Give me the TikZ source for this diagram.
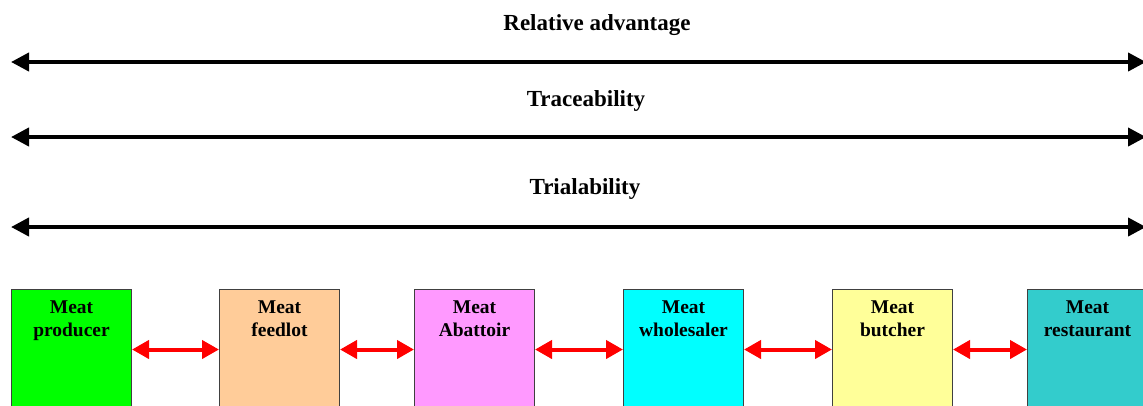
\documentclass[tikz,border=0pt]{standalone}
\usepackage{fontspec}
\setmainfont{Liberation Serif}
\usetikzlibrary{arrows.meta}
\definecolor{cGreen}{HTML}{00FF00}
\definecolor{cPeach}{HTML}{FFCC99}
\definecolor{cPink}{HTML}{FF99FF}
\definecolor{cCyan}{HTML}{00FFFF}
\definecolor{cYellow}{HTML}{FFFF99}
\definecolor{cTeal}{HTML}{33CCCC}
\definecolor{cEdge}{HTML}{404040}
\tikzset{
  title/.style={font=\bfseries\fontsize{17.25}{20}\selectfont, anchor=base, inner sep=0pt},
  bigarrow/.style={line width=3pt, {Triangle[length=13.5pt,width=13.5pt]}-{Triangle[length=13.5pt,width=13.5pt]}},
  stage/.style={draw=cEdge, line width=0.75pt, minimum width=90pt, minimum height=90pt, anchor=north west, inner sep=0pt},
  stagetext/.style={font=\bfseries\fontsize{14.6}{17.25}\selectfont, align=center, anchor=north, inner sep=0pt},
  link/.style={red, line width=3pt, {Triangle[length=12.75pt,width=13.5pt]}-{Triangle[length=12.75pt,width=13.5pt]}}
}
\begin{document}
\begin{tikzpicture}[x=0.75pt,y=-0.75pt]
\useasboundingbox (0,0) rectangle (1143,405);
\clip (0,0) rectangle (1143,405);

% attribute headings with their full-width double arrows
\node[title] (tA) at (597,30) {Relative advantage};
\coordinate (aL) at (11,62);  \coordinate (aR) at (1146,62);
\draw[bigarrow] (aL) -- (aR);

\node[title] (tB) at (586,106) {Traceability};
\coordinate (bL) at (11,137); \coordinate (bR) at (1146,137);
\draw[bigarrow] (bL) -- (bR);

\node[title] (tC) at (585,194) {Trialability};
\coordinate (cL) at (11,227); \coordinate (cR) at (1146,227);
\draw[bigarrow] (cL) -- (cR);

% supply chain stages
\node[stage, fill=cGreen]  (s1) at (11,289)   {};
\node[stage, fill=cPeach]  (s2) at (219,289)  {};
\node[stage, fill=cPink]   (s3) at (414,289)  {};
\node[stage, fill=cCyan]   (s4) at (623,289)  {};
\node[stage, fill=cYellow] (s5) at (832,289)  {};
\node[stage, fill=cTeal]   (s6) at (1027,289) {};

\node[stagetext] (l1) at ([yshift=-8.9pt]s1.north) {Meat\\producer};
\node[stagetext] (l2) at ([yshift=-8.9pt]s2.north) {Meat\\feedlot};
\node[stagetext] (l3) at ([yshift=-8.9pt]s3.north) {Meat\\Abattoir};
\node[stagetext] (l4) at ([yshift=-8.9pt]s4.north) {Meat\\wholesaler};
\node[stagetext] (l5) at ([yshift=-8.9pt]s5.north) {Meat\\butcher};
\node[stagetext] (l6) at ([yshift=-8.9pt]s6.north) {Meat\\restaurant};

% links between neighbouring stages
\draw[link] (s1.east) -- (s2.west);
\draw[link] (s2.east) -- (s3.west);
\draw[link] (s3.east) -- (s4.west);
\draw[link] (s4.east) -- (s5.west);
\draw[link] (s5.east) -- (s6.west);
\end{tikzpicture}
\end{document}
